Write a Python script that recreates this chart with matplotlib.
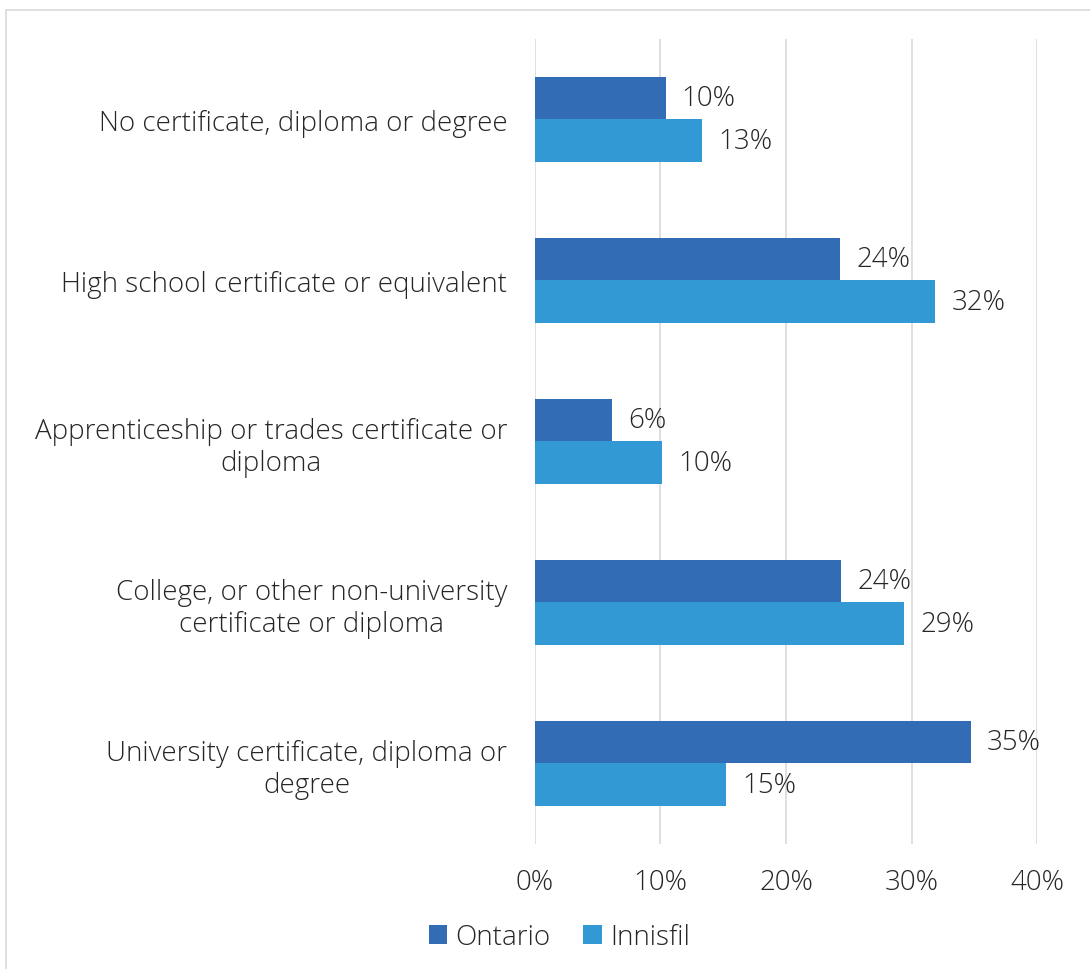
import numpy as np
import matplotlib.pyplot as plt
from matplotlib.patches import Rectangle

categories = [
    "No certificate, diploma or degree",
    "High school certificate or equivalent",
    "Apprenticeship or trades certificate or\ndiploma",
    "College, or other non-university\ncertificate or diploma",
    "University certificate, diploma or\ndegree",
]
ontario = [10.4, 24.3, 6.1, 24.4, 34.7]
innisfil = [13.3, 31.9, 10.1, 29.4, 15.2]
ontario_labels = ["10%", "24%", "6%", "24%", "35%"]
innisfil_labels = ["13%", "32%", "10%", "29%", "15%"]
xticks = [0, 10, 20, 30, 40]

plt.rcParams['font.family'] = ['Open Sans', 'DejaVu Sans']
plt.rcParams['font.weight'] = 'light'
text_color = '#262626'
fs = 20

fig = plt.figure(figsize=(10.9, 9.7), dpi=100)
ax = fig.add_axes([0.4908, 0.1289, 0.4606, 0.8299])

# Outer chart border
fig.patches.append(Rectangle((6 / 1090, -0.01), 1.1, 1 - 11 / 970 + 0.01,
                             transform=fig.transFigure, fill=False,
                             edgecolor='#D9D9D9', linewidth=1.2))

y = np.arange(len(categories))
h = 0.265
b1 = ax.barh(y - h / 2, ontario, height=h, color='#316CB5', label='Ontario', zorder=3)
b2 = ax.barh(y + h / 2, innisfil, height=h, color='#3399D5', label='Innisfil', zorder=3)

for bars, labels in [(b1, ontario_labels), (b2, innisfil_labels)]:
    for bar, lab in zip(bars, labels):
        ax.text(bar.get_width() + 1.3, bar.get_y() + bar.get_height() / 2, lab,
                va='center', ha='left', fontsize=fs, color=text_color)

ax.set_xlim(0, 40)
ax.set_ylim(len(categories) - 0.5, -0.5)
ax.set_xticks(xticks)
ax.set_xticklabels([f"{t}%" for t in xticks], fontsize=fs, color=text_color)
ax.set_yticks(y)
ax.set_yticklabels(categories, fontsize=fs, color=text_color, ha='right',
                   multialignment='center', linespacing=1.2)
ax.tick_params(axis='y', length=0, pad=20)
ax.tick_params(axis='x', length=0, pad=17)
ax.grid(axis='x', color='#D9D9D9', linewidth=1.2, zorder=0)
for s in ax.spines.values():
    s.set_visible(False)

ax.legend(loc='center', bbox_to_anchor=(0.513, 1 - 938 / 970),
          bbox_transform=fig.transFigure, ncol=2, frameon=False, fontsize=fs,
          handlelength=0.65, handleheight=0.65, handletextpad=0.3,
          columnspacing=1.2, labelcolor=text_color)

fig.savefig('out.png', dpi=100)
